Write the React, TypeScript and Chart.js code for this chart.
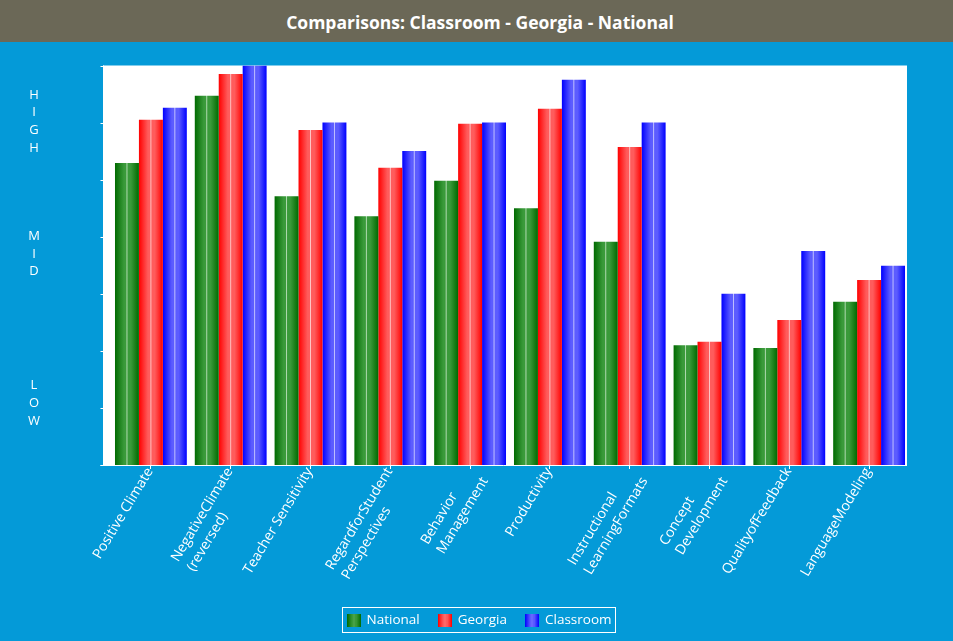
import React, { useEffect, useRef } from "react";
import { Chart, registerables } from "chart.js";

Chart.register(...registerables);

const categories: string[][] = [
  ["Positive Climate"],
  ["NegativeClimate", "(reversed)"],
  ["Teacher Sensitivity"],
  ["RegardforStudent", "Perspectives"],
  ["Behavior", "Management"],
  ["Productivity"],
  ["Instructional", "LearningFormats"],
  ["Concept", "Development"],
  ["QualityofFeedback"],
  ["LanguageModeling"],
];

const national = [5.29, 6.47, 4.71, 4.36, 4.98, 4.5, 3.91, 2.1, 2.05, 2.86];
const georgia = [6.05, 6.85, 5.87, 5.21, 5.98, 6.24, 5.57, 2.16, 2.54, 3.24];
const classroom = [6.26, 7.0, 6.0, 5.5, 6.0, 6.75, 6.0, 3.0, 3.75, 3.49];

const seriesNames = ["National", "Georgia", "Classroom"];
const yTickValues = [0, 1, 2, 3, 4, 5, 6, 7];
const bandLabels = ["HIGH", "MID", "LOW"];
const bandValues = [6.02, 3.7, 1.08];

const TITLE = "Comparisons: Classroom - Georgia - National";
const BLUE_BG = "#049ad8";
const TITLE_BG = "#6b6857";
const FONT = "'Open Sans', 'DejaVu Sans', sans-serif";

type Shade = { edge: string; mid: string; line: string };
const shades: Shade[] = [
  { edge: "#006a00", mid: "#3a9a3a", line: "#b4dcb4" },
  { edge: "#ff0000", mid: "#ff5c5c", line: "#ffc4c4" },
  { edge: "#0000ff", mid: "#5c5cff", line: "#c4c4ff" },
];

const CAT_PCT = 0.9;

function makeGrad(ctx: CanvasRenderingContext2D, x0: number, x1: number, s: Shade) {
  const g = ctx.createLinearGradient(x0, 0, x1, 0);
  g.addColorStop(0, s.edge);
  g.addColorStop(0.38, s.mid);
  g.addColorStop(0.46, s.mid);
  g.addColorStop(0.5, s.line);
  g.addColorStop(0.54, s.mid);
  g.addColorStop(0.66, s.mid);
  g.addColorStop(1, s.edge);
  return g;
}

function barColor(c: any) {
  const chart = c.chart;
  const s = shades[c.datasetIndex] || shades[0];
  const xs = chart.scales && chart.scales.x;
  if (!xs || c.dataIndex === undefined || !chart.chartArea) return s.edge;
  const catW = xs.width / categories.length;
  const groupW = catW * CAT_PCT;
  const barW = groupW / 3;
  const center = xs.getPixelForValue(c.dataIndex);
  const left = center - groupW / 2 + c.datasetIndex * barW;
  return makeGrad(chart.ctx, left, left + barW, s);
}

const decorPlugin = {
  id: "decor",
  beforeDraw(chart: any) {
    const { ctx, chartArea: ca } = chart;
    ctx.save();
    ctx.fillStyle = "#ffffff";
    ctx.fillRect(ca.left - 8, ca.top, ca.right - 2 - (ca.left - 8), ca.bottom - ca.top);
    ctx.restore();
  },
  afterDraw(chart: any) {
    const { ctx, chartArea: ca, scales } = chart;
    const ys = scales.y;
    const xs = scales.x;
    ctx.save();
    ctx.strokeStyle = "#ffffff";
    ctx.lineWidth = 1;
    const axX = Math.round(ca.left - 8) + 0.5;
    ctx.beginPath();
    ctx.moveTo(axX, ca.top);
    ctx.lineTo(axX, ca.bottom);
    yTickValues.forEach((v) => {
      const y = Math.round(ys.getPixelForValue(v)) + 0.5;
      ctx.moveTo(axX - 3, y);
      ctx.lineTo(axX, y);
    });
    const by = Math.round(ca.bottom) + 0.5;
    ctx.moveTo(axX - 3, by);
    ctx.lineTo(ca.right - 2, by);
    ctx.stroke();

    // band letters
    ctx.fillStyle = "#ffffff";
    ctx.font = `13px ${FONT}`;
    ctx.textAlign = "center";
    ctx.textBaseline = "middle";
    const spacing = 17.6;
    bandLabels.forEach((lab, i) => {
      const cy = ys.getPixelForValue(bandValues[i]);
      const letters = lab.split("");
      const n = letters.length;
      letters.forEach((ch, j) => {
        ctx.fillText(ch, 34, cy + (j - (n - 1) / 2) * spacing);
      });
    });

    // x labels
    ctx.font = `14px ${FONT}`;
    ctx.textAlign = "left";
    ctx.textBaseline = "middle";
    const ang = (59 * Math.PI) / 180;
    const lineH = 18.5;
    categories.forEach((lines, i) => {
      const x = xs.getPixelForValue(i);
      const W = Math.max(...lines.map((l) => ctx.measureText(l).width));
      ctx.save();
      ctx.translate(x - 1, ca.bottom + 4);
      ctx.rotate(-ang);
      lines.forEach((l, j) => {
        ctx.fillText(l, -W, j * lineH);
      });
      ctx.restore();
    });

    // legend
    ctx.font = `13.5px ${FONT}`;
    ctx.textBaseline = "middle";
    ctx.textAlign = "left";
    const swW = 14;
    const swH = 13;
    const gapSw = 6;
    const gapItem = 18;
    const pad = 4;
    const widths = seriesNames.map((n) => ctx.measureText(n).width);
    let total = pad * 2;
    widths.forEach((w, i) => {
      total += swW + gapSw + w + (i < widths.length - 1 ? gapItem : 0);
    });
    const cx = 479;
    const boxL = Math.round(cx - total / 2) + 0.5;
    const boxT = 565.5;
    const boxH = 25;
    ctx.strokeRect(boxL, boxT, Math.round(total), boxH);
    let px = boxL + pad;
    const midY = boxT + boxH / 2;
    seriesNames.forEach((n, i) => {
      const sx = Math.round(px);
      ctx.fillStyle = makeGrad(ctx, sx, sx + swW, shades[i]);
      ctx.fillRect(sx, Math.round(midY - swH / 2), swW, swH);
      ctx.fillStyle = "#ffffff";
      ctx.fillText(n, px + swW + gapSw, midY + 0.5);
      px += swW + gapSw + widths[i] + gapItem;
    });
    ctx.restore();
  },
};

export default function App() {
  const ref = useRef<HTMLCanvasElement | null>(null);
  useEffect(() => {
    if (!ref.current) return;
    const chart = new Chart(ref.current, {
      type: "bar",
      data: {
        labels: categories.map((c) => c.join(" ")),
        datasets: [
          { label: seriesNames[0], data: national, backgroundColor: barColor as any, borderWidth: 0 },
          { label: seriesNames[1], data: georgia, backgroundColor: barColor as any, borderWidth: 0 },
          { label: seriesNames[2], data: classroom, backgroundColor: barColor as any, borderWidth: 0 },
        ],
      },
      options: {
        animation: false,
        responsive: false,
        maintainAspectRatio: false,
        events: [],
        datasets: { bar: { categoryPercentage: CAT_PCT, barPercentage: 1 } },
        layout: { padding: { left: 111, right: 44, top: 23.5, bottom: 0 } },
        plugins: { legend: { display: false }, title: { display: false }, tooltip: { enabled: false } },
        scales: {
          x: {
            type: "category",
            offset: true,
            grid: {
              display: true,
              drawOnChartArea: false,
              drawTicks: true,
              tickLength: 4,
              color: "#ffffff",
              offset: false,
            },
            border: { display: false },
            ticks: { display: false },
            afterFit: (s: any) => {
              s.height = 176;
            },
          },
          y: { display: false, min: 0, max: 7 },
        },
      },
      plugins: [decorPlugin],
    });
    return () => chart.destroy();
  }, []);

  return (
    <div style={{ position: "fixed", left: 0, top: 0, width: 953, height: 641, background: BLUE_BG, overflow: "hidden" }}>
      <div
        style={{
          height: 42,
          lineHeight: "44px",
          background: TITLE_BG,
          color: "#ffffff",
          fontFamily: FONT,
          fontWeight: 700,
          fontSize: 17.5,
          textAlign: "center",
          paddingLeft: 7,
          boxSizing: "border-box",
        }}
      >
        {TITLE}
      </div>
      <canvas ref={ref} width={953} height={599} style={{ display: "block", width: 953, height: 599 }} />
    </div>
  );
}
